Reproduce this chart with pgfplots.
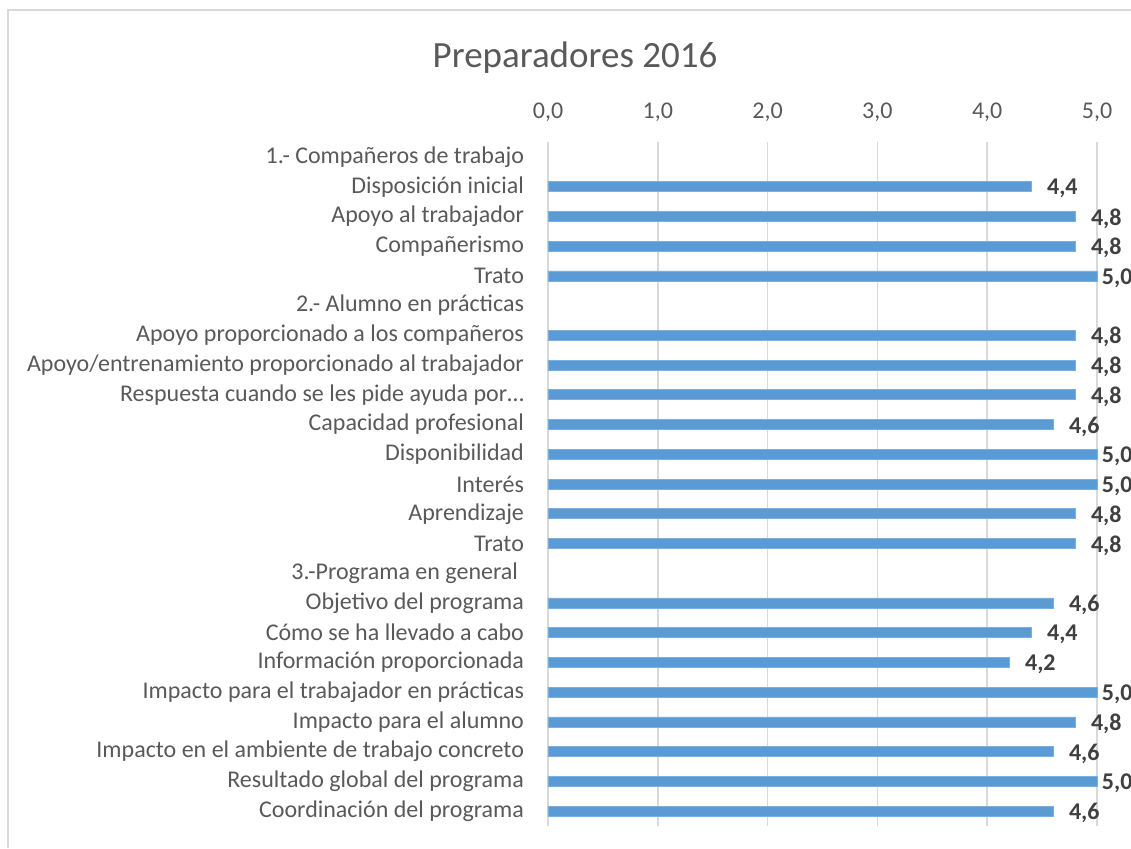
\documentclass[border=0pt]{standalone}
\usepackage{pgfplots}
\pgfplotsset{compat=1.18}
\usepackage{fontspec}
\setmainfont{Carlito}
\definecolor{barblue}{HTML}{5B9BD5}
\definecolor{txtgray}{HTML}{595959}
\definecolor{lblgray}{HTML}{404040}
\definecolor{gridgray}{HTML}{D9D9D9}

\begin{document}
\begin{tikzpicture}
\useasboundingbox (0,0) rectangle (565.5pt,424pt);
\draw[gridgray, line width=0.8pt] (4pt,0) -- (4pt,419pt) -- (566pt,419pt);
\node[font=\fontsize{18.5}{20}\selectfont, text=txtgray] at (287.5pt,395pt) {Preparadores 2016};
\begin{axis}[
    at={(274pt,11pt)},
    anchor=south west,
    scale only axis,
    width=274.5pt,
    height=342pt,
    xbar,
    bar width=5pt,
    bar shift=0pt,
    xmin=0, xmax=5,
    ymin=-0.5, ymax=22.5,
    y dir=reverse,
    xtick={0,1,2,3,4,5},
    xticklabel pos=right,
    ytick={0,...,22},
    yticklabels={
        1.- Compañeros de trabajo,
        Disposición inicial,
        Apoyo al trabajador,
        Compañerismo,
        Trato,
        2.- Alumno en prácticas,
        Apoyo proporcionado a los compañeros,
        Apoyo/entrenamiento proporcionado al trabajador,
        Respuesta cuando se les pide ayuda por…,
        Capacidad profesional,
        Disponibilidad,
        Interés,
        Aprendizaje,
        Trato,
        3.-Programa en general\hspace*{3pt},
        Objetivo del programa,
        Cómo se ha llevado a cabo,
        Información proporcionada,
        Impacto para el trabajador en prácticas,
        Impacto para el alumno,
        Impacto en el ambiente de trabajo concreto,
        Resultado global del programa,
        Coordinación del programa},
    major tick length=0,
    axis line style={draw=none},
    xmajorgrids,
    major grid style={gridgray, line width=0.8pt},
    tick label style={font=\fontsize{12}{14}\selectfont, text=txtgray},
    yticklabel style={xshift=-8.5pt},
    xticklabel style={yshift=6.5pt},
    /pgf/number format/.cd, use comma, fixed, fixed zerofill, precision=1, assume math mode=true,
    /pgfplots/.cd,
    clip=false,
    nodes near coords={\pgfmathprintnumber[use comma,fixed,fixed zerofill,precision=1,assume math mode=true]{\pgfplotspointmeta}},
    nodes near coords style={font=\bfseries\fontsize{12}{14}\selectfont, text=lblgray, anchor=west, xshift=4.5pt, yshift=-1pt},
]
% values below 5,0
\addplot[fill=barblue, draw=barblue!80!white, line width=0.3pt]
    coordinates {
    (4.4,1) (4.8,2) (4.8,3)
    (4.8,6) (4.8,7) (4.8,8) (4.6,9) (4.8,12) (4.8,13)
    (4.6,15) (4.4,16) (4.2,17) (4.8,19) (4.6,20) (4.6,22)
    };
% values of 5,0 (labels pushed against the edge, as in the original)
\addplot[fill=barblue, draw=barblue!80!white, line width=0.3pt,
    nodes near coords style={xshift=-5.5pt}]
    coordinates {
    (5.0,4) (5.0,10) (5.0,11) (5.0,18) (5.0,21)
    };
\end{axis}
\end{tikzpicture}
\end{document}
